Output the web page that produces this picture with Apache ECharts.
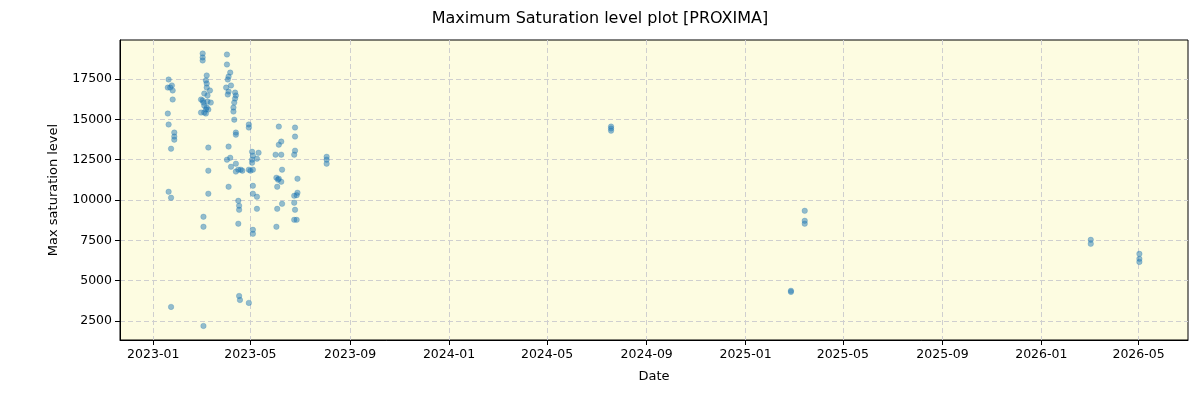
<!DOCTYPE html>
<html>
<head>
<meta charset="utf-8">
<script src="https://cdn.jsdelivr.net/npm/echarts@6/dist/echarts.min.js"></script>
<style>html,body{margin:0;padding:0;background:#fff;}#c{width:1200px;height:400px;}</style>
</head>
<body>
<div id="c"></div>
<script>
// Observation dates and max saturation values
const dates = [
  '2023-01-20','2023-01-24','2023-01-19','2023-01-22','2023-01-25','2023-01-25','2023-01-19','2023-01-20',
  '2023-01-27','2023-01-27','2023-01-27','2023-01-23','2023-01-20','2023-01-23','2023-01-23',
  '2023-03-03','2023-03-03','2023-03-03','2023-03-08','2023-03-07','2023-03-08','2023-03-08','2023-03-12',
  '2023-03-05','2023-03-09','2023-03-01','2023-03-03','2023-03-04','2023-03-09','2023-03-13','2023-03-05',
  '2023-03-08','2023-03-10','2023-03-07','2023-03-01','2023-03-05','2023-03-07','2023-03-10','2023-03-10',
  '2023-03-10','2023-03-04','2023-03-04','2023-03-04',
  '2023-04-02','2023-04-02','2023-04-06','2023-04-04','2023-04-03','2023-04-01','2023-04-07','2023-04-04',
  '2023-04-12','2023-04-13','2023-04-03','2023-04-12','2023-04-11','2023-04-10','2023-04-10','2023-04-11',
  '2023-04-13','2023-04-13','2023-04-04','2023-04-06','2023-04-02','2023-04-13','2023-04-07','2023-04-16',
  '2023-04-13','2023-04-19','2023-04-21','2023-04-04','2023-04-16','2023-04-17','2023-04-17','2023-04-16',
  '2023-04-17','2023-04-18',
  '2023-04-29','2023-04-29','2023-05-03','2023-05-11','2023-05-04','2023-05-09','2023-05-03','2023-05-03',
  '2023-05-04','2023-04-29','2023-05-01','2023-05-04','2023-05-04','2023-05-09','2023-05-09','2023-05-04',
  '2023-05-04','2023-04-29',
  '2023-06-05','2023-06-08','2023-06-05','2023-06-01','2023-06-08','2023-06-02','2023-06-05','2023-06-04',
  '2023-06-08','2023-06-03','2023-06-09','2023-06-03','2023-06-09','2023-06-02',
  '2023-06-25','2023-06-25','2023-06-25','2023-06-24','2023-06-28','2023-06-28','2023-06-24','2023-06-27',
  '2023-06-24','2023-06-25','2023-06-24','2023-06-27',
  '2023-08-03','2023-08-03','2023-08-03',
  '2024-07-19','2024-07-19','2024-07-19',
  '2025-02-26','2025-02-26',
  '2025-03-15','2025-03-15','2025-03-15',
  '2026-03-03','2026-03-03',
  '2026-05-02','2026-05-02','2026-05-02'
];
const values = [
  17470,17100,16970,16970,16790,16230,15360,14680,
  14180,13930,13740,13180,10510,10140,3370,
  19080,18840,18650,17720,17410,17220,16970,16790,
  16600,16480,16230,16170,16040,16100,16040,15850,
  15730,15610,15610,15420,15420,15360,13250,11820,
  10390,8960,8340,2190,
  19020,18400,17900,17650,17470,16970,17100,16720,
  16660,16480,16540,16290,16040,15730,15480,14980,
  14180,14050,13310,12620,12500,12250,12060,11880,
  11760,11880,11820,10820,9950,9640,9390,8530,
  4050,3800,
  14680,14490,12990,12930,12750,12560,12500,12310,
  11880,11880,11820,10880,10390,10200,9450,8150,
  7900,3620,
  14550,13620,13430,12810,12810,11380,11320,11260,
  11130,10820,11880,9450,9760,8340,
  14490,13930,13060,12810,11320,10450,10260,10300,
  9830,9390,8770,8770,
  12680,12500,12250,
  14550,14430,14300,
  4370,4300,
  9330,8710,8530,
  7530,7280,
  6660,6350,6160
];
const xTickLabels = ['2023-01','2023-05','2023-09','2024-01','2024-05','2024-09','2025-01','2025-05','2025-09','2026-01','2026-05'];
const yTickValues = [2500,5000,7500,10000,12500,15000,17500];

function ts(s){ const p=s.split('-').map(Number); return Date.UTC(p[0],p[1]-1,p[2]||1); }
const xTicks = xTickLabels.map(ts);
const points = dates.map((d,i)=>[ts(d), values[i]]);

const chart = echarts.init(document.getElementById('c'), null, {renderer:'canvas'});
const font = 'DejaVu Sans';
chart.setOption({
  animation: false,
  backgroundColor: '#ffffff',
  title: {
    text: 'Maximum Saturation level plot [PROXIMA]',
    left: 'center', top: 6,
    textStyle: {fontFamily: font, fontSize: 16, fontWeight: 'normal', color: '#000'}
  },
  grid: {
    left: 120, right: 12, top: 40, bottom: 60,
    show: true, backgroundColor: '#fdfce1', borderColor: '#000', borderWidth: 1
  },
  xAxis: {
    type: 'value',
    min: ts('2022-11-21'), max: ts('2026-07-01'),
    name: 'Date', nameLocation: 'middle', nameGap: 30,
    nameTextStyle: {fontFamily: font, fontSize: 13, color: '#000'},
    axisLine: {show: true, onZero: false, lineStyle: {color: '#000'}},
    axisTick: {show: true, length: 5, lineStyle: {color: '#000'}, customValues: xTicks},
    axisLabel: {
      customValues: xTicks, fontFamily: font, fontSize: 12.5, color: '#000', margin: 8,
      formatter: function(v){ const d=new Date(v); return d.getUTCFullYear()+'-'+String(d.getUTCMonth()+1).padStart(2,'0'); }
    },
    splitLine: {show: true, lineStyle: {color: '#cfcfcf', type: [5,3], width: 1}}
  },
  yAxis: {
    type: 'value',
    min: 1320, max: 19920,
    name: 'Max saturation level', nameLocation: 'middle', nameGap: 60, nameRotate: 90,
    nameTextStyle: {fontFamily: font, fontSize: 13, color: '#000'},
    axisLine: {show: true, onZero: false, lineStyle: {color: '#000'}},
    axisTick: {show: true, length: 5, lineStyle: {color: '#000'}, customValues: yTickValues},
    axisLabel: {customValues: yTickValues, fontFamily: font, fontSize: 12.5, color: '#000', margin: 8,
      formatter: function(v){ return String(v); }},
    splitLine: {show: true, lineStyle: {color: '#cfcfcf', type: [5,3], width: 1}}
  },
  series: [{
    type: 'scatter',
    data: points,
    symbol: 'circle',
    symbolSize: 5.5,
    itemStyle: {color: 'rgba(31,119,180,0.6)', borderColor: 'rgba(31,119,180,0.6)', borderWidth: 0.5}
  }]
});
</script>
</body>
</html>
